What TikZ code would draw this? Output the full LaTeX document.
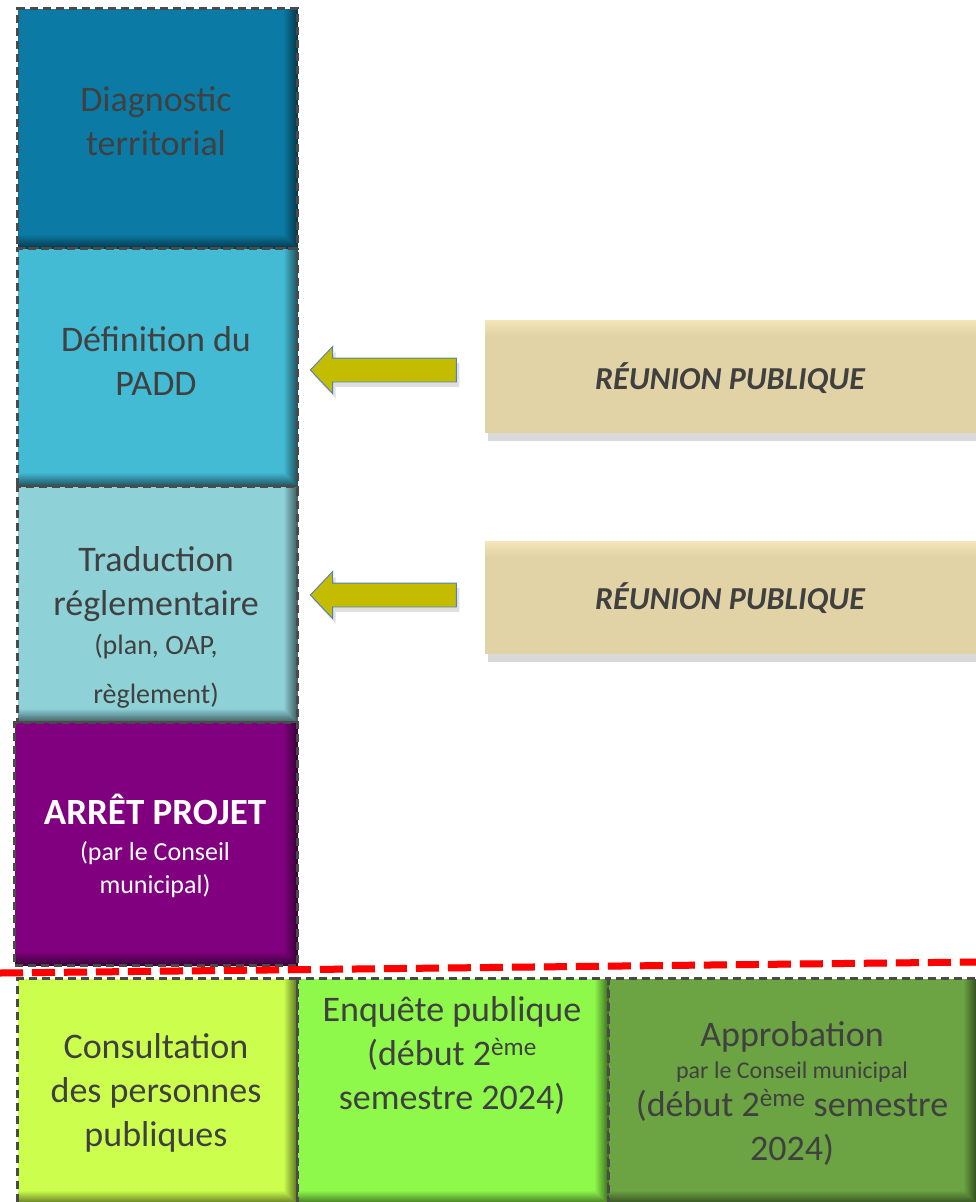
\documentclass[tikz,border=0pt]{standalone}
\usepackage{fontspec}
\setmainfont{Carlito}
\usetikzlibrary{shapes.arrows,shadows}
\definecolor{txtgray}{HTML}{404040}
\definecolor{edgegray}{HTML}{4A4A4A}
\definecolor{diagblue}{HTML}{0B7BA6}
\definecolor{paddblue}{HTML}{43BBD5}
\definecolor{tradblue}{HTML}{8ED2D8}
\definecolor{arretpurple}{HTML}{800080}
\definecolor{consgreen}{HTML}{CCFF4D}
\definecolor{enqgreen}{HTML}{8EF94A}
\definecolor{approgreen}{HTML}{6CA444}
\definecolor{reutan}{HTML}{E2D3A6}
\definecolor{reutop}{HTML}{F6E7BC}
\definecolor{arrowolive}{HTML}{C4BC00}
\definecolor{arrowedge}{HTML}{4F81BD}
\begin{document}
\begin{tikzpicture}
	[
		x=1pt, y=-1pt,
		stage/.style = {
			anchor=north west, inner sep=0pt,
			fill=#1, draw=edgegray, line width=3pt,
			dash pattern=on 8pt off 5pt,
			path picture={
				\foreach \k in {14,...,1} {
					\pgfmathtruncatemacro\pct{41+4*\k}
					\fill[#1!\pct!black]
						([xshift=-\k pt]path picture bounding box.north east)
						rectangle (path picture bounding box.south east);
				}
				\foreach \k in {14,...,1} {
					\pgfmathtruncatemacro\pct{41+4*\k}
					\fill[#1!\pct!black]
						([yshift=\k pt]path picture bounding box.south west)
						rectangle ([xshift=-\k pt]path picture bounding box.south east);
				}
			}
		},
		meeting/.style = {
			anchor=north west, inner sep=0pt,
			fill=reutan, minimum width=500pt, minimum height=113pt,
			drop shadow={shadow xshift=3pt, shadow yshift=-8pt, opacity=.3},
			path picture={
				\foreach \k in {1,...,16} {
					\pgfmathtruncatemacro\pct{100-6*\k}
					\fill[reutop!\pct!reutan]
						([yshift=-\k pt]path picture bounding box.north west)
						rectangle ([yshift=-\k pt+1pt]path picture bounding box.north east);
				}
			}
		},
		back/.style = {
			single arrow, shape border rotate=180,
			fill=arrowolive, draw=arrowedge, line width=.9pt,
			inner xsep=0pt, inner ysep=11.5pt,
			minimum height=146pt, single arrow head extend=11.5pt,
			single arrow tip angle=93,
			drop shadow={shadow xshift=3pt, shadow yshift=-5pt, opacity=.25}
		},
		txt/.style = {
			text=txtgray, align=center,
			font=\fontsize{36}{44}\selectfont
		},
		meettxt/.style = {
			text=txtgray, font=\fontsize{32}{38}\selectfont\bfseries\itshape
		},
		cut/.style = {red, line width=7pt, dash pattern=on 23pt off 9pt}
	]
	\useasboundingbox (0,0) rectangle (976,1202);
	\node[stage=diagblue, minimum width=280pt, minimum height=240pt] (diag) at (16,7) {};
	\node[stage=paddblue, minimum width=280pt, minimum height=238pt] (padd) at (16,247) {};
	\node[stage=tradblue, minimum width=280pt, minimum height=236pt] (trad) at (16,485) {};
	\node[stage=arretpurple, minimum width=283pt, minimum height=243pt] (arret) at (13,721) {};
	\node[stage=consgreen, minimum width=280pt, minimum height=226pt] (cons) at (16,977) {};
	\node[stage=enqgreen, minimum width=311pt, minimum height=226pt] (enq) at (296,977) {};
	\node[stage=approgreen, minimum width=369pt, minimum height=226pt] (appro) at (607,977) {};

	\node[txt] (diagtxt) at (156,121) {Diagnostic\\territorial};
	\node[txt] (paddtxt) at (156,361) {Définition du\\PADD};
	\node[txt] (tradtxt) at (156,627) {Traduction\\réglementaire\\[-5pt]{\fontsize{28}{34}\selectfont (plan, OAP,}\\[5pt]{\fontsize{28}{34}\selectfont règlement)}};
	\node[txt, text=white] (arrettxt) at (155,846) {{\fontsize{37}{40}\selectfont\bfseries ARRÊT PROJET}\\[-8pt]{\fontsize{26}{33}\selectfont (par le Conseil}\\[-11pt]{\fontsize{26}{33}\selectfont municipal)}};
	\node[txt] (constxt) at (156,1093) {Consultation\\des personnes\\publiques};
	\node[txt] (enqtxt) at (452,1055) {Enquête publique\\(début 2\textsuperscript{ème}\\semestre 2024)};
	\node[txt] (approtxt) at (792,1093) {Approbation\\[-12pt]{\fontsize{24}{30}\selectfont par le Conseil municipal}\\[-6pt](début 2\textsuperscript{ème} semestre\\2024)};

	\node[meeting] (reu1) at (485,320) {};
	\node[meeting] (reu2) at (485,541) {};
	\node[meettxt] (reu1txt) at (730,378) {RÉUNION PUBLIQUE};
	\node[meettxt] (reu2txt) at (730,598) {RÉUNION PUBLIQUE};

	\node[back] (arrow1) at (389,370) {};
	\node[back] (arrow2) at (389,595) {};

	\coordinate (cutl) at (0,973);
	\coordinate (cutr) at (976,962);
	\draw[cut, black, opacity=.18, yshift=-4pt] (cutl) -- (cutr);
	\draw[cut] (cutl) -- (cutr);
\end{tikzpicture}
\end{document}
